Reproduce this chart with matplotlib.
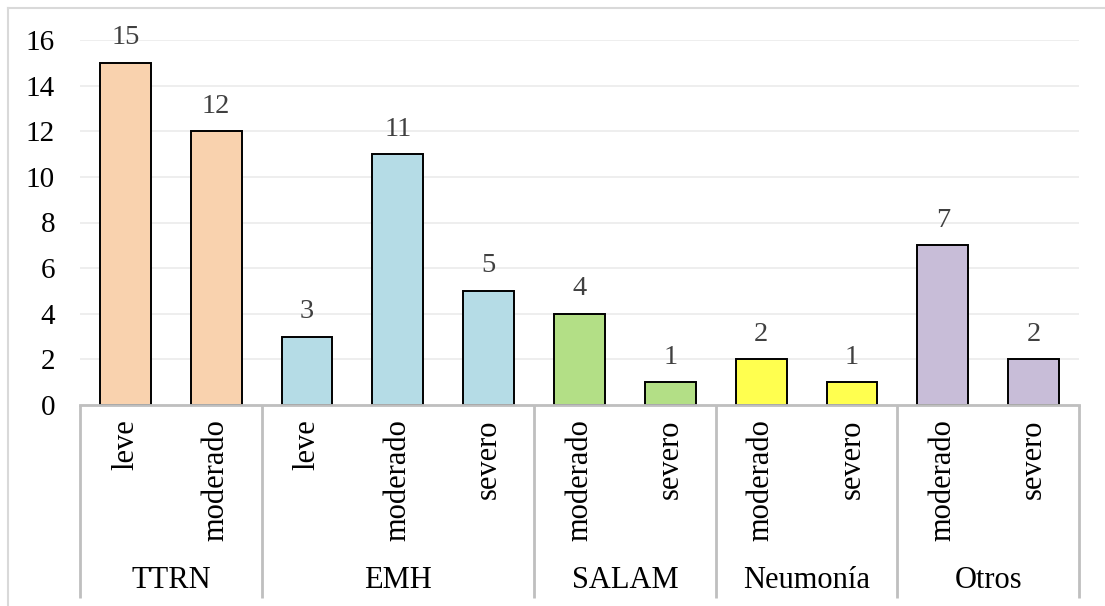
import matplotlib.pyplot as plt
import numpy as np
from matplotlib.lines import Line2D
from matplotlib.transforms import blended_transform_factory

plt.rcParams["font.family"] = ["Liberation Serif", "DejaVu Serif"]

groups = ["TTRN", "EMH", "SALAM", "Neumonía", "Otros"]
severities = [
    ["leve", "moderado"],
    ["leve", "moderado", "severo"],
    ["moderado", "severo"],
    ["moderado", "severo"],
    ["moderado", "severo"],
]
counts = [
    [15, 12],
    [3, 11, 5],
    [4, 1],
    [2, 1],
    [7, 2],
]
group_colors = ["#F9D2AE", "#B5DCE6", "#B3DF86", "#FFFF4F", "#C8BDD8"]

fig = plt.figure(figsize=(11.05, 6.06), dpi=100)
ax = fig.add_axes([80 / 1105, 1 - 405 / 606, 999 / 1105, 365 / 606])

axis_grey = "#BFBFBF"
trans = blended_transform_factory(ax.transData, ax.transAxes)

pos = 0
edges = [-0.5]
for grp, sev, vals, col in zip(groups, severities, counts, group_colors):
    xs = np.arange(pos, pos + len(vals))
    bars = ax.bar(xs, vals, width=0.56, color=col, edgecolor="black",
                  linewidth=1.4, zorder=3)
    for b, v in zip(bars, vals):
        ax.annotate(str(v), (b.get_x() + b.get_width() / 2, v),
                    xytext=(0, 9), textcoords="offset points",
                    ha="center", va="bottom", fontsize=20.5, color="#404040")
    for x, s in zip(xs, sev):
        ax.text(x, -0.04, s, transform=trans, rotation=90, ha="center",
                va="top", fontsize=22, color="black")
    ax.text(xs.mean(), -0.482, grp, transform=trans, ha="center",
            va="center", fontsize=22, color="black")
    pos += len(vals)
    edges.append(pos - 0.5)

# group separators below the axis
for e in edges:
    ax.plot([e, e], [0, -0.529], transform=trans, color=axis_grey,
            linewidth=2, clip_on=False, solid_capstyle="butt")

ax.set_xlim(-0.5, pos - 0.5)
ax.set_ylim(0, 16)
ax.set_yticks(range(0, 17, 2))
ax.set_xticks([])
ax.tick_params(axis="y", length=0, pad=18, labelsize=21, labelcolor="black")
ax.yaxis.grid(True, color="#EBEBEB", linewidth=1.2, zorder=0)
ax.set_axisbelow(True)
for side in ["top", "right", "left"]:
    ax.spines[side].set_visible(False)
ax.spines["bottom"].set_color(axis_grey)
ax.spines["bottom"].set_linewidth(2)
ax.spines["bottom"].set_zorder(4)

# outer chart frame (left and top edges)
fig.add_artist(Line2D([8 / 1105, 8 / 1105], [0, 1 - 8 / 606],
                      color="#D9D9D9", linewidth=1.5))
fig.add_artist(Line2D([8 / 1105, 1], [1 - 8 / 606, 1 - 8 / 606],
                      color="#D9D9D9", linewidth=1.5))

fig.savefig("out.png", dpi=100)
